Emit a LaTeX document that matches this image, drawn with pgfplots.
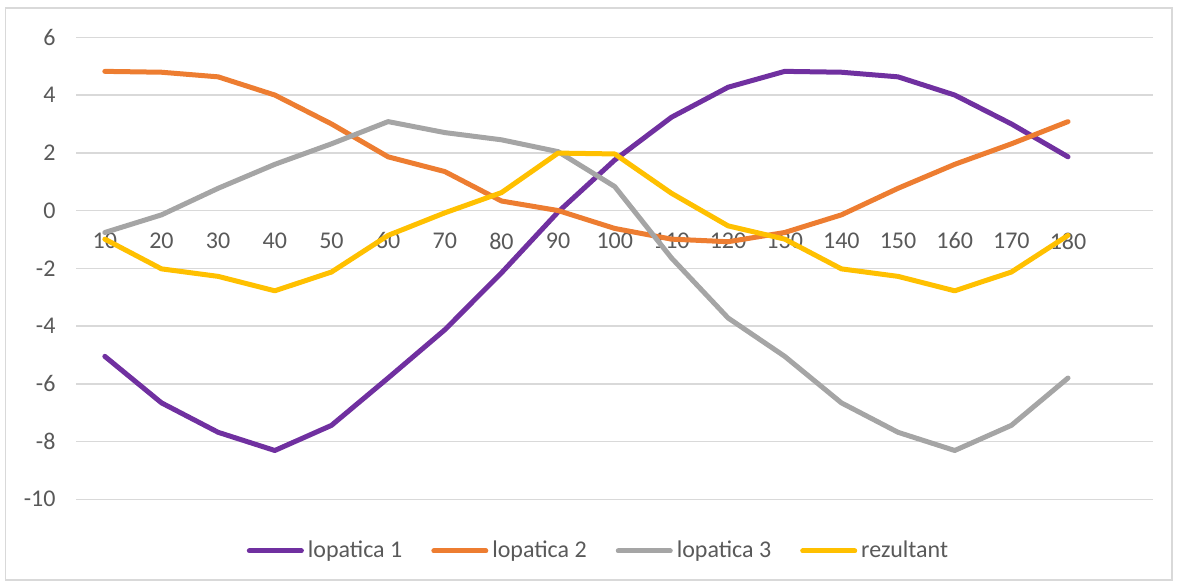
\documentclass[border=0pt]{standalone}
\usepackage{fontspec}
\setmainfont{Carlito}
\usepackage{pgfplots}
\pgfplotsset{compat=1.18}
\definecolor{cpurple}{HTML}{7030A0}
\definecolor{corange}{HTML}{ED7D31}
\definecolor{cgray}{HTML}{A5A5A5}
\definecolor{cyellow}{HTML}{FFC000}
\definecolor{cgrid}{HTML}{D9D9D9}
\definecolor{ctext}{HTML}{595959}
\begin{document}
\begin{tikzpicture}
\path[use as bounding box] (-38.25pt,-43.85pt) rectangle (551.25pt,249.65pt);
\draw[cgrid, line width=0.75pt] (-35.5pt,-40.3pt) rectangle (547.7pt,245.6pt);
\begin{axis}[
  at={(0,0)}, anchor=south west,
  scale only axis,
  width=538.25pt, height=231pt,
  xmin=5, xmax=195,
  ymin=-10, ymax=6,
  xtick={10,20,...,180},
  ytick={-10,-8,...,6},
  axis x line=middle,
  axis y line=left,
  axis line style={draw=none},
  hide obscured x ticks=false,
  hide obscured y ticks=false,
  major tick length=0pt,
  ymajorgrids,
  grid style={cgrid, line width=0.75pt},
  /pgf/number format/assume math mode=true,
  tick label style={font=\fontsize{12}{14}\selectfont, text=ctext},
  xticklabel style={anchor=north, yshift=-7.5pt},
  yticklabel style={anchor=east, xshift=-7pt},
  clip=false,
  legend columns=4,
  legend style={at={(261.5pt,-25.85pt)}, anchor=center, draw=none, fill=none,
    font=\fontsize{12}{14}\selectfont, text=ctext,
    /tikz/every even column/.append style={column sep=12.5pt}},
  legend image code/.code={\draw[#1, line cap=round] (0pt,0pt) -- (26pt,0pt);},
  every axis plot/.append style={line width=2.5pt, line join=round, line cap=round},
]
\addplot[cpurple] coordinates {
(10,-5.05) (20,-6.66) (30,-7.68) (40,-8.31) (50,-7.44) (60,-5.80)
(70,-4.13) (80,-2.16) (90,-0.05) (100,1.75) (110,3.23) (120,4.27)
(130,4.82) (140,4.79) (150,4.63) (160,4.00) (170,3.00) (180,1.86)};
\addlegendentry{lopatica 1}
\addplot[corange] coordinates {
(10,4.82) (20,4.79) (30,4.63) (40,4.00) (50,3.00) (60,1.86)
(70,1.35) (80,0.33) (90,0.00) (100,-0.62) (110,-0.99) (120,-1.08)
(130,-0.76) (140,-0.15) (150,0.77) (160,1.60) (170,2.31) (180,3.08)};
\addlegendentry{lopatica 2}
\addplot[cgray] coordinates {
(10,-0.76) (20,-0.15) (30,0.77) (40,1.60) (50,2.31) (60,3.08)
(70,2.70) (80,2.45) (90,2.04) (100,0.83) (110,-1.64) (120,-3.72)
(130,-5.05) (140,-6.66) (150,-7.68) (160,-8.31) (170,-7.44) (180,-5.80)};
\addlegendentry{lopatica 3}
\addplot[cyellow] coordinates {
(10,-0.99) (20,-2.02) (30,-2.28) (40,-2.78) (50,-2.13) (60,-0.86)
(70,-0.08) (80,0.62) (90,1.99) (100,1.96) (110,0.60) (120,-0.53)
(130,-0.99) (140,-2.02) (150,-2.28) (160,-2.78) (170,-2.13) (180,-0.86)};
\addlegendentry{rezultant}
\end{axis}
\end{tikzpicture}
\end{document}
